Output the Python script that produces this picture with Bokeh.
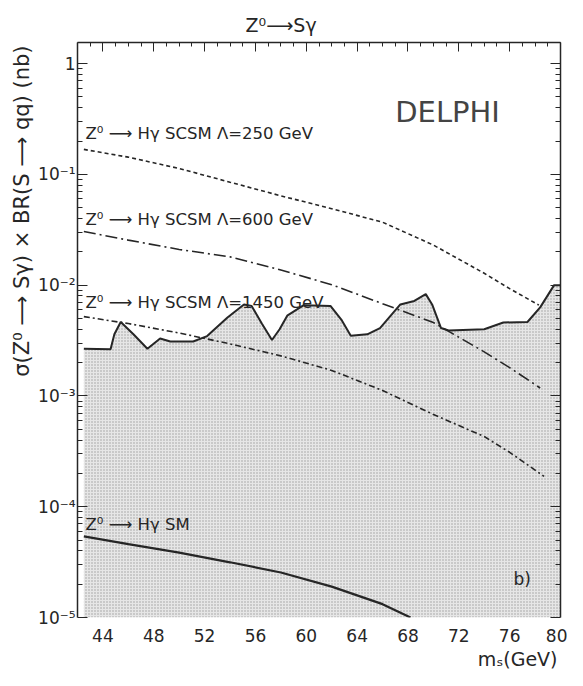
from bokeh.plotting import figure
from bokeh.models import Range1d, FixedTicker, LogAxis, LinearAxis, Title, Label
from bokeh.embed import file_html
from bokeh.resources import INLINE

# ---- data ----
m_limit = [42.5, 44.6, 44.9, 45.4, 46.4, 47.5, 48.5, 49.3, 51.1, 52.2, 53.8, 55.1, 55.7,
           56.5, 57.3, 57.9, 58.5, 59.8, 61.9, 62.8, 63.5, 64.8, 65.8, 67.4, 68.5, 69.4,
           69.9, 70.6, 71.2, 74.0, 75.5, 77.4, 78.4, 79.5, 80.0]
limit = [2.67e-3, 2.64e-3, 3.6e-3, 4.65e-3, 3.6e-3, 2.67e-3, 3.3e-3, 3.1e-3, 3.1e-3, 3.47e-3,
         5.1e-3, 6.7e-3, 6.5e-3, 4.5e-3, 3.2e-3, 4.0e-3, 5.3e-3, 6.6e-3, 6.5e-3, 4.8e-3,
         3.5e-3, 3.6e-3, 4.1e-3, 6.7e-3, 7.2e-3, 8.3e-3, 6.7e-3, 4.1e-3, 3.9e-3, 4.0e-3,
         4.6e-3, 4.65e-3, 6.3e-3, 1.0e-2, 1.0e-2]

m_250 = [42.5, 46, 50, 54, 58, 62, 66, 70, 74, 76, 78.3]
s_250 = [0.168, 0.143, 0.113, 0.085, 0.064, 0.049, 0.037, 0.023, 0.0128, 0.0093, 0.0066]

m_600 = [42.5, 46, 50, 54, 58, 62, 66, 70, 74, 76, 78.4]
s_600 = [0.0305, 0.0255, 0.021, 0.018, 0.0137, 0.0101, 0.0068, 0.0046, 0.0025, 0.0018, 0.00118]

m_1450 = [42.5, 46, 50, 54, 58, 62, 66, 70, 74, 76, 78.7]
s_1450 = [5.2e-3, 4.5e-3, 3.7e-3, 2.95e-3, 2.3e-3, 1.7e-3, 1.12e-3, 6.8e-4, 4.3e-4, 3.1e-4, 1.88e-4]

m_sm = [42.5, 46, 50, 54, 58, 62, 66, 68.2]
s_sm = [5.4e-5, 4.6e-5, 3.85e-5, 3.15e-5, 2.55e-5, 1.9e-5, 1.32e-5, 1.0e-5]

x_ticks = [44, 48, 52, 56, 60, 64, 68, 72, 76, 80]
x_minor = list(range(42, 81))
y_major = [1e-5, 1e-4, 1e-3, 1e-2, 1e-1, 1.0]
y_labels = ["10⁻⁵", "10⁻⁴", "10⁻³", "10⁻²", "10⁻¹", "1"]
y_minor = [k * d for d in [1e-5, 1e-4, 1e-3, 1e-2, 1e-1, 1.0] for k in range(2, 10)]

curve_labels = ["Z⁰ ⟶ Hγ SCSM Λ=250 GeV", "Z⁰ ⟶ Hγ SCSM Λ=600 GeV",
                "Z⁰ ⟶ Hγ SCSM Λ=1450 GeV", "Z⁰ ⟶ Hγ SM"]

FONT = "DejaVu Sans"
INK = "#262626"

p = figure(width=567, height=670, x_range=Range1d(42, 80), y_range=Range1d(1e-5, 1.55),
           y_axis_type="log", output_backend="svg", toolbar_location=None, title=None,
           min_border_left=77, min_border_right=7, min_border_top=42, min_border_bottom=53)
p.outline_line_color = None
p.xgrid.visible = False
p.ygrid.visible = False
p.background_fill_color = "white"

xt = FixedTicker(ticks=x_ticks, minor_ticks=x_minor)
yt = FixedTicker(ticks=y_major, minor_ticks=y_minor)

# bottom axis
xa = p.xaxis[0]
xa.ticker = xt
xa.axis_line_color = None
xa.major_tick_line_color = None
xa.minor_tick_line_color = None
xa.major_label_standoff = 5
xa.major_label_text_font = FONT
xa.major_label_text_font_size = "17px"
xa.major_label_text_color = INK

# left axis
ya = p.yaxis[0]
ya.ticker = yt
ya.major_label_overrides = {v: t for v, t in zip(y_major, y_labels)}
ya.major_tick_in = 10
ya.major_tick_out = 0
ya.minor_tick_in = 5
ya.minor_tick_out = 0
ya.axis_line_width = 1.5
ya.axis_line_color = INK
ya.major_tick_line_color = INK
ya.minor_tick_line_color = INK
ya.major_label_standoff = 2
ya.major_label_text_font = FONT
ya.major_label_text_font_size = "17px"
ya.major_label_text_color = INK

# top axis (ticks only, labels not drawn)
ta = LinearAxis(ticker=xt, major_label_text_font_size="2px", major_label_text_color=None,
                major_tick_in=9, major_tick_out=0, minor_tick_in=4, minor_tick_out=0,
                axis_line_width=1.5, axis_line_color=INK, major_tick_line_color=INK,
                minor_tick_line_color=INK, major_label_standoff=0)
p.add_layout(ta, "above")

# right axis (ticks only, labels not drawn)
ra = LogAxis(ticker=yt, major_label_text_font_size="2px", major_label_text_color=None,
             major_tick_in=10, major_tick_out=0, minor_tick_in=5, minor_tick_out=0,
             axis_line_width=1.5, axis_line_color=INK, major_tick_line_color=INK,
             minor_tick_line_color=INK, major_label_standoff=0)
p.add_layout(ra, "right")

# titles
p.add_layout(Title(text="Z⁰⟶Sγ", align="left", offset=168, standoff=14, text_font=FONT,
                   text_font_size="19px", text_font_style="normal", text_color=INK), "above")
p.add_layout(Title(text="σ(Z⁰ ⟶ Sγ) × BR(S ⟶ qq) (nb)", align="right", offset=3, standoff=4,
                   text_font=FONT, text_font_size="21px", text_font_style="normal",
                   text_color=INK), "left")
p.add_layout(Title(text="mₛ(GeV)", align="right", offset=3, standoff=2, text_font=FONT,
                   text_font_size="19px", text_font_style="normal", text_color=INK), "below")

# excluded region
p.varea(x=m_limit, y1=1e-5, y2=limit, fill_color="#e6e6e6", hatch_pattern="dot",
        hatch_color="#9e9e9e", hatch_scale=3, hatch_weight=1)
p.line(m_limit, limit, line_color=INK, line_width=2)

# model curves
p.line(m_250, s_250, line_color=INK, line_width=1.6, line_dash="4 3")
p.line(m_600, s_600, line_color=INK, line_width=1.6, line_dash="12 4 2 4")
p.line(m_1450, s_1450, line_color=INK, line_width=1.6, line_dash="6 3 2 3")
p.line(m_sm, s_sm, line_color=INK, line_width=2.2)

label_pos = [(42.63, 0.235), (42.63, 0.0393), (42.63, 6.98e-3), (42.63, 6.86e-5)]
for (lx, ly), txt in zip(label_pos, curve_labels):
    p.add_layout(Label(x=lx, y=ly, text=txt, text_font=FONT, text_font_size="16.5px",
                       text_color=INK, text_baseline="middle"))

p.add_layout(Label(x=67.0, y=0.368, text="DELPHI", text_font=FONT,
                   text_font_size="29px", text_color="#444444", text_baseline="middle"))
p.add_layout(Label(x=76.3, y=2.23e-5, text="b)", text_font=FONT, text_font_size="17px",
                   text_color=INK, text_baseline="middle"))

open("out.html", "w").write(file_html(p, INLINE))
